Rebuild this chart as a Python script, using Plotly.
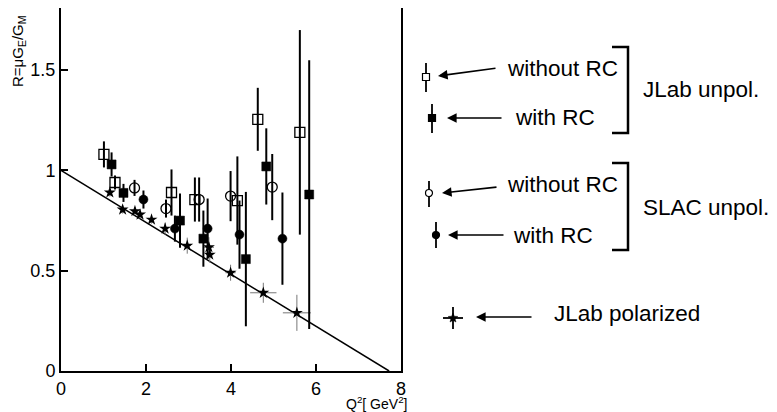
import math
import plotly.graph_objects as go

# ---------------- data ----------------
JLAB_NORC_Q = [1.01, 1.27, 2.60, 3.15, 4.15, 4.63, 5.62]
JLAB_NORC_R = [1.08, 0.94, 0.89, 0.855, 0.85, 1.255, 1.19]
JLAB_NORC_E = [0.065, 0.035, 0.115, 0.11, 0.22, 0.157, 0.51]

JLAB_RC_Q = [1.19, 1.47, 2.80, 3.35, 4.35, 4.83, 5.84]
JLAB_RC_R = [1.03, 0.888, 0.75, 0.66, 0.558, 1.02, 0.88]
JLAB_RC_E = [0.06, 0.045, 0.135, 0.14, 0.335, 0.19, 0.67]

SLAC_NORC_Q = [1.73, 2.47, 3.25, 3.99, 4.97]
SLAC_NORC_R = [0.913, 0.81, 0.855, 0.872, 0.917]
SLAC_NORC_E = [0.04, 0.045, 0.11, 0.125, 0.165]

SLAC_RC_Q = [1.94, 2.68, 3.45, 4.20, 5.21]
SLAC_RC_R = [0.855, 0.71, 0.71, 0.68, 0.66]
SLAC_RC_E = [0.045, 0.065, 0.15, 0.17, 0.23]

POL_Q = [1.15, 1.45, 1.74, 1.86, 2.13, 2.45, 2.97, 3.48, 3.50, 3.99, 4.76, 5.55]
POL_R = [0.89, 0.805, 0.797, 0.78, 0.755, 0.71, 0.625, 0.617, 0.58, 0.49, 0.39, 0.29]
POL_EQ = [0.03, 0.03, 0.03, 0.03, 0.05, 0.05, 0.08, 0.12, 0.08, 0.12, 0.31, 0.33]
POL_ER = [0.02, 0.02, 0.02, 0.02, 0.02, 0.03, 0.04, 0.05, 0.04, 0.04, 0.05, 0.09]

LINE_Q = [0.0, 7.72]
LINE_R = [1.0, 0.0]

X_TICKS = [0, 2, 4, 6, 8]
X_TICK_TEXT = ["0", "2", "4", "6", "8"]
Y_TICKS = [0, 0.5, 1, 1.5]
Y_TICK_TEXT = ["0", "0.5", "1", "1.5"]

LEGEND_TEXT = ["without RC", "with RC", "without RC", "with RC", "JLab polarized"]
GROUP_TEXT = ["JLab unpol.", "SLAC unpol."]

# ---------------- figure ----------------
OFF = 8                       # page body margin offset of the rendered figure
W, H = 777 - OFF, 412 - OFF
FONT = "Liberation Sans, Arial, sans-serif"
X0P, X1P, Y0P, Y1P = 61, 401, 371, 8          # plot-area box in screen pixels


def fx(p):  # screen pixel x -> paper x
    return (p - X0P) / (X1P - X0P)


def fy(p):  # screen pixel y -> paper y
    return (Y0P - p) / (Y0P - Y1P)


fig = go.Figure()
fig.add_trace(go.Scatter(x=LINE_Q, y=LINE_R, mode="lines",
                         line=dict(color="black", width=1.5), showlegend=False))


def series(q, r, e, symbol, size, ex=None, ethick=2, ecolor="black", lw=1.3):
    d = dict(x=q, y=r, mode="markers", showlegend=False,
             marker=dict(symbol=symbol, size=size, color="black",
                         line=dict(color="black", width=lw)),
             error_y=dict(type="data", array=e, width=0, thickness=ethick, color=ecolor))
    if ex is not None:
        d["error_x"] = dict(type="data", array=ex, width=0, thickness=1, color="#777")
    fig.add_trace(go.Scatter(**d))


series(POL_Q, POL_R, POL_ER, "star", 9, ex=POL_EQ, ethick=1, ecolor="#777", lw=0)
series(JLAB_NORC_Q, JLAB_NORC_R, JLAB_NORC_E, "square-open", 10)
series(JLAB_RC_Q, JLAB_RC_R, JLAB_RC_E, "square", 9, lw=0.5)
series(SLAC_NORC_Q, SLAC_NORC_R, SLAC_NORC_E, "circle-open", 10)
series(SLAC_RC_Q, SLAC_RC_R, SLAC_RC_E, "circle", 9, lw=0.5)

# ------------- legend glyphs (shapes in paper coords) -------------
shapes = []
BLK = dict(color="black", width=1.8)


def vline(x, ya, yb):
    shapes.append(dict(type="line", xref="paper", yref="paper", x0=fx(x), x1=fx(x),
                       y0=fy(ya), y1=fy(yb), line=BLK))


def hline(xa, xb, y):
    shapes.append(dict(type="line", xref="paper", yref="paper", x0=fx(xa), x1=fx(xb),
                       y0=fy(y), y1=fy(y), line=BLK))


def glyph(kind, x, y, r):
    fill = "black" if kind.startswith("f") else "white"
    t = "rect" if kind.endswith("sq") else "circle"
    shapes.append(dict(type=t, xref="paper", yref="paper", x0=fx(x - r), x1=fx(x + r),
                       y0=fy(y + r), y1=fy(y - r), fillcolor=fill,
                       line=dict(color="black", width=1.2)))


def star(x, y, ro, ri):
    pts = []
    for k in range(10):
        ang = -math.pi / 2 + k * math.pi / 5
        rr = ro if k % 2 == 0 else ri
        pts.append((x + rr * math.cos(ang), y + rr * math.sin(ang)))
    path = "M " + " L ".join(f"{fx(a):.5f} {fy(b):.5f}" for a, b in pts) + " Z"
    shapes.append(dict(type="path", xref="paper", yref="paper", path=path,
                       fillcolor="black", line=dict(color="black", width=0.5)))


vline(426, 63, 92); glyph("osq", 426, 77, 3.5)
vline(432, 104, 133); glyph("fsq", 432, 118, 3.5)
vline(429, 181, 207); glyph("oci", 429, 193, 3.5)
vline(436, 222, 248); glyph("fci", 436, 235, 3.5)
vline(453, 307, 329); hline(443, 463, 318); star(453, 318, 5, 2.2)

for (y0, y1) in [(47, 133), (163, 250)]:
    shapes.append(dict(type="path", xref="paper", yref="paper",
                       path=(f"M {fx(612)} {fy(y0)} L {fx(628)} {fy(y0)} "
                             f"L {fx(628)} {fy(y1)} L {fx(612)} {fy(y1)}"),
                       line=dict(color="black", width=2.5)))

arrows = [  # (tail x, tail y, head x, head y) in screen pixels
    (497, 68, 438, 76),
    (503, 118, 447, 118),
    (498, 187, 442, 193),
    (505, 235, 448, 235),
    (533, 317, 476, 317),
]
text_pos = [(505, 68), (513, 118), (505, 184), (511, 235), (552, 313)]
annotations = []
for (tx, ty, hx, hy) in arrows:
    annotations.append(dict(x=fx(hx), y=fy(hy), ax=tx - hx, ay=ty - hy,
                            xref="paper", yref="paper", showarrow=True, arrowhead=2,
                            arrowsize=1.2, arrowwidth=1.6, arrowcolor="black", text=""))
for (t, (x, y)) in zip(LEGEND_TEXT, text_pos):
    annotations.append(dict(x=fx(x), y=fy(y), xref="paper", yref="paper", text=t,
                            showarrow=False, xanchor="left", yanchor="middle",
                            font=dict(family=FONT, size=22.5, color="black")))
for (t, (x, y)) in zip(GROUP_TEXT, [(641, 90), (641, 207)]):
    annotations.append(dict(x=fx(x), y=fy(y), xref="paper", yref="paper", text=t,
                            showarrow=False, xanchor="left", yanchor="middle",
                            font=dict(family=FONT, size=22.5, color="black")))

# axis titles
annotations.append(dict(x=fx(19), y=fy(51), xref="paper", yref="paper",
                        text="R=μG<sub>E</sub>/G<sub>M</sub>", textangle=-90,
                        showarrow=False, xanchor="center", yanchor="middle",
                        font=dict(family=FONT, size=15, color="black")))
annotations.append(dict(x=fx(409), y=fy(403), xref="paper", yref="paper",
                        text="Q<sup>2</sup>[ GeV<sup>2</sup>]",
                        showarrow=False, xanchor="right", yanchor="middle",
                        font=dict(family=FONT, size=14, color="black")))

fig.update_layout(
    width=W, height=H,
    margin=dict(l=X0P - OFF, r=W - (X1P - OFF), t=Y1P - OFF, b=H - (Y0P - OFF),
                autoexpand=False),
    paper_bgcolor="white", plot_bgcolor="white",
    font=dict(family=FONT, size=16, color="black"),
    annotations=annotations, shapes=shapes,
    xaxis=dict(range=[0, 8], tickvals=X_TICKS, ticktext=X_TICK_TEXT,
               ticks="inside", ticklen=7, tickwidth=1.5, tickcolor="black",
               showline=True, linecolor="black", linewidth=2, mirror=True,
               showgrid=False, zeroline=False,
               tickfont=dict(family=FONT, size=18)),
    yaxis=dict(range=[0, 1.81], tickvals=Y_TICKS, ticktext=Y_TICK_TEXT,
               ticks="inside", ticklen=7, tickwidth=1.5, tickcolor="black",
               showline=True, linecolor="black", linewidth=2, mirror=True,
               showgrid=False, zeroline=False,
               tickfont=dict(family=FONT, size=18)),
)

fig.write_html("out.html")
